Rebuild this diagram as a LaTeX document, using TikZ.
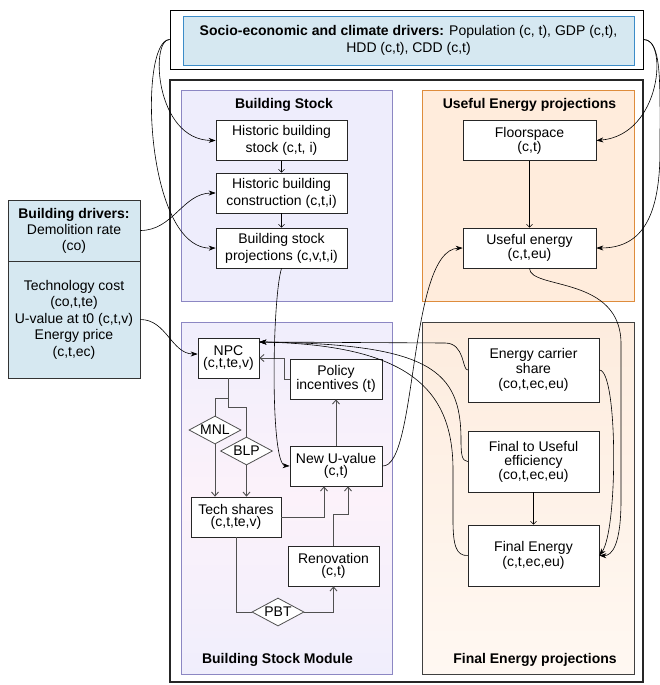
\documentclass[tikz,border=0pt]{standalone}
\usepackage{fontspec}
\setmainfont{Liberation Sans}
\usetikzlibrary{arrows.meta,calc,positioning,shapes.geometric}

\definecolor{driverblue}{RGB}{214,232,241}
\definecolor{driverline}{RGB}{60,140,200}
\definecolor{stockfill}{RGB}{238,237,252}
\definecolor{stockline}{RGB}{140,135,195}
\definecolor{usefulfill}{RGB}{255,236,220}
\definecolor{usefulline}{RGB}{222,140,60}
\definecolor{finalfill}{RGB}{253,236,222}
\definecolor{finalfade}{RGB}{255,248,242}
\definecolor{modtop}{RGB}{240,238,252}
\definecolor{modmid}{RGB}{252,242,250}
\definecolor{flowgray}{RGB}{80,80,80}

\begin{document}
\begin{tikzpicture}[
    x=1pt, y=1pt,
    every node/.style={
        font=\fontsize{14}{16}\selectfont,
        align=center,
        inner sep=2pt
    },
    panel/.style={draw, line width=0.8pt, anchor=north west, inner sep=0pt},
    panellabel/.style={font=\fontsize{14}{16}\selectfont\bfseries},
    varbox/.style={draw=black!85, fill=white, line width=0.7pt,
        minimum width=131pt, minimum height=40pt},
    tightbox/.style={varbox, font=\fontsize{14}{12.5}\selectfont},
    tallbox/.style={varbox, font=\fontsize{14}{15}\selectfont},
    choice/.style={draw=flowgray, fill=white, diamond, shape aspect=1.9,
        inner sep=0.5pt, minimum width=52pt, minimum height=28pt, line width=0.8pt},
    driverbox/.style={draw=black!80, fill=driverblue, line width=0.8pt,
        minimum width=132pt},
    feed/.style={draw, line width=0.6pt, -{Stealth[length=7pt,width=5pt]}},
    pass/.style={draw, line width=0.6pt, -{Straight Barb[length=3pt,width=6pt]}},
    flow/.style={draw=flowgray, line width=0.9pt, -{Straight Barb[length=4pt,width=7pt]}},
    link/.style={draw=flowgray, line width=0.9pt}
]
\useasboundingbox (0,0) rectangle (659,-685);

% frames and panels
\node[draw, line width=0.8pt, minimum width=473pt, minimum height=59pt] (socioframe) at (406.5,-39.5) {};
\node[fill=driverblue, draw=driverline, line width=0.8pt, minimum width=451pt, minimum height=49pt,
    font=\fontsize{14}{17}\selectfont] (socio) at (408.5,-40.5)
    {\textbf{Socio-economic and climate drivers:} Population (c, t), GDP (c,t),\\HDD (c,t), CDD (c,t)};
\node[draw=black!85, line width=1.8pt, minimum width=473pt, minimum height=602pt] (mainframe) at (406.5,-381) {};

\node[panel, draw=stockline, fill=stockfill, minimum width=211pt, minimum height=211pt] (stockpanel) at (181,-90) {};
\node[panel, draw=usefulline, fill=usefulfill, minimum width=212pt, minimum height=211pt] (usefulpanel) at (422,-90) {};
\node[panel, draw=stockline, top color=modtop, bottom color=modtop, middle color=modmid,
    minimum width=211pt, minimum height=352pt] (modulepanel) at (181,-322) {};
\node[panel, draw=black!75, top color=finalfill, bottom color=finalfade,
    minimum width=212pt, minimum height=352pt] (finalpanel) at (422,-322) {};

\node[panellabel] (stocklabel) at (284,-105) {Building Stock};
\node[panellabel] (usefullabel) at (529.5,-105) {Useful Energy projections};
\node[panellabel] (modulelabel) at (277.5,-660) {Building Stock Module};
\node[panellabel] (finallabel) at (535,-660) {Final Energy projections};

% drivers
\node[driverbox, minimum height=61pt] (bdtop) at (74,-230.5)
    {\textbf{Building drivers:}\\Demolition rate\\(co)};
\node[driverbox, minimum height=117pt, font=\fontsize{14}{16.5}\selectfont] (bdbot) at (74,-319.5)
    {Technology cost\\(co,t,te)\\U-value at t0 (c,t,v)\\Energy price\\(c,t,ec)};

% building stock
\node[varbox, font=\fontsize{14}{17}\selectfont] (hbs) at (281.5,-140.5) {Historic building\\stock (c,t, i)};
\node[varbox, font=\fontsize{14}{17}\selectfont] (hbc) at (281.5,-193) {Historic building\\construction (c,t,i)};
\node[varbox, font=\fontsize{14}{17}\selectfont] (bsp) at (281.5,-248) {Building stock\\projections (c,v,t,i)};

% useful energy
\node[tightbox, minimum width=133pt] (floor) at (529.5,-140.5) {Floorspace\\(c,t)};
\node[tightbox, minimum width=133pt] (ue) at (529.5,-248) {Useful energy\\(c,t,eu)};

% building stock module
\node[tightbox, minimum width=61pt] (npc) at (228.5,-358) {NPC\\(c,t,te,v)};
\node[tightbox, minimum width=92pt] (policy) at (336,-379) {Policy\\incentives (t)};
\node[choice] (mnl) at (215,-430) {MNL};
\node[choice] (blp) at (246.5,-451) {BLP};
\node[tightbox, minimum width=92pt] (nuv) at (336,-466) {New U-value\\(c,t)};
\node[tightbox, minimum width=90pt] (ts) at (236,-517) {Tech shares\\(c,t,te,v)};
\node[tightbox, minimum width=91pt] (ren) at (333.5,-566) {Renovation\\(c,t)};
\node[choice] (pbt) at (278,-612) {PBT};
\coordinate (npcin) at ([yshift=16pt]npc.east);

% final energy
\node[tallbox, minimum height=64pt] (ecs) at (533.5,-370) {Energy carrier\\share\\(co,t,ec,eu)};
\node[tallbox, minimum height=61pt, font=\fontsize{14}{14}\selectfont] (fue) at (533.5,-461.5) {Final to Useful\\efficiency\\(co,t,ec,eu)};
\node[tallbox, minimum height=61pt] (fe) at (533.5,-555.5) {Final Energy\\(c,t,ec,eu)};

% drivers into the model
\draw[feed] (socioframe.west) .. controls (150,-39) and (155,-140) .. (hbs.west);
\draw[feed] (socioframe.west) .. controls (138,-40) and (145,-250) .. (bsp.west);
\draw[feed] (bdtop.east) to[out=0,in=180] (hbc.west);
\draw[feed] (socioframe.east) .. controls (668,-38) and (662,-135) .. (floor.east);
\draw[feed] (socioframe.east) .. controls (662,-40) and (660,-80) .. (660,-150)
    .. controls (660,-220) and (640,-248) .. (ue.east);
\draw[feed] (bdbot.east) to[out=0,in=180] ([yshift=4pt]npc.west);

% inside the blocks
\draw[pass] (hbs) -- (hbc);
\draw[pass] (hbc) -- (bsp);
\draw[pass] (floor) -- (ue);
\draw[pass] (fue) -- (fe);

\draw[link] (npc.south) -- ++(0,-20) -| (mnl.north);
\draw[link] (npc.south) -- ++(0,-29) -| (blp.north);
\draw[flow] (mnl.south) -- (mnl.south |- ts.north);
\draw[flow] (blp.south) -- (blp.south |- ts.north);
\draw[flow] (ts.east) -| ([xshift=-12pt]nuv.south);
\draw[flow] (ren.north) -- ++(0,31) -| ([xshift=12pt]nuv.south);
\draw[link] (ts.south) |- (pbt.west);
\draw[flow] (pbt.east) -| (ren.south);
\draw[flow] (nuv.north) -- (policy.south);
\draw[flow] (policy.west) -- ++(-5,0) |- (npc.east);

% between the blocks
\draw[feed] (bsp.south) .. controls (272,-300) and (270,-465) .. (nuv.west);
\draw[feed] (nuv.east) .. controls (418,-468) and (408,-250) .. (ue.west);
\draw[feed] (ue.south) .. controls (530,-290) and (622,-275) .. (621,-345)
    -- (621,-500) .. controls (621,-545) and (612,-556) .. (fe.east);
\draw[feed] (ecs.east) .. controls (618,-370) and (618,-530) .. (fe.east);
\draw[feed] (ecs.west) .. controls (462,-370) and (465,-343) .. (445,-343) -- (npcin);
\draw[feed] (fue.west) .. controls (462,-461) and (461,-455) .. (461,-440)
    .. controls (461,-370) and (430,-344) .. (npcin);
\draw[feed] (fe.west) .. controls (456,-556) and (453,-545) .. (453,-520)
    -- (453,-470) .. controls (453,-390) and (410,-345) .. (npcin);

\end{tikzpicture}
\end{document}
